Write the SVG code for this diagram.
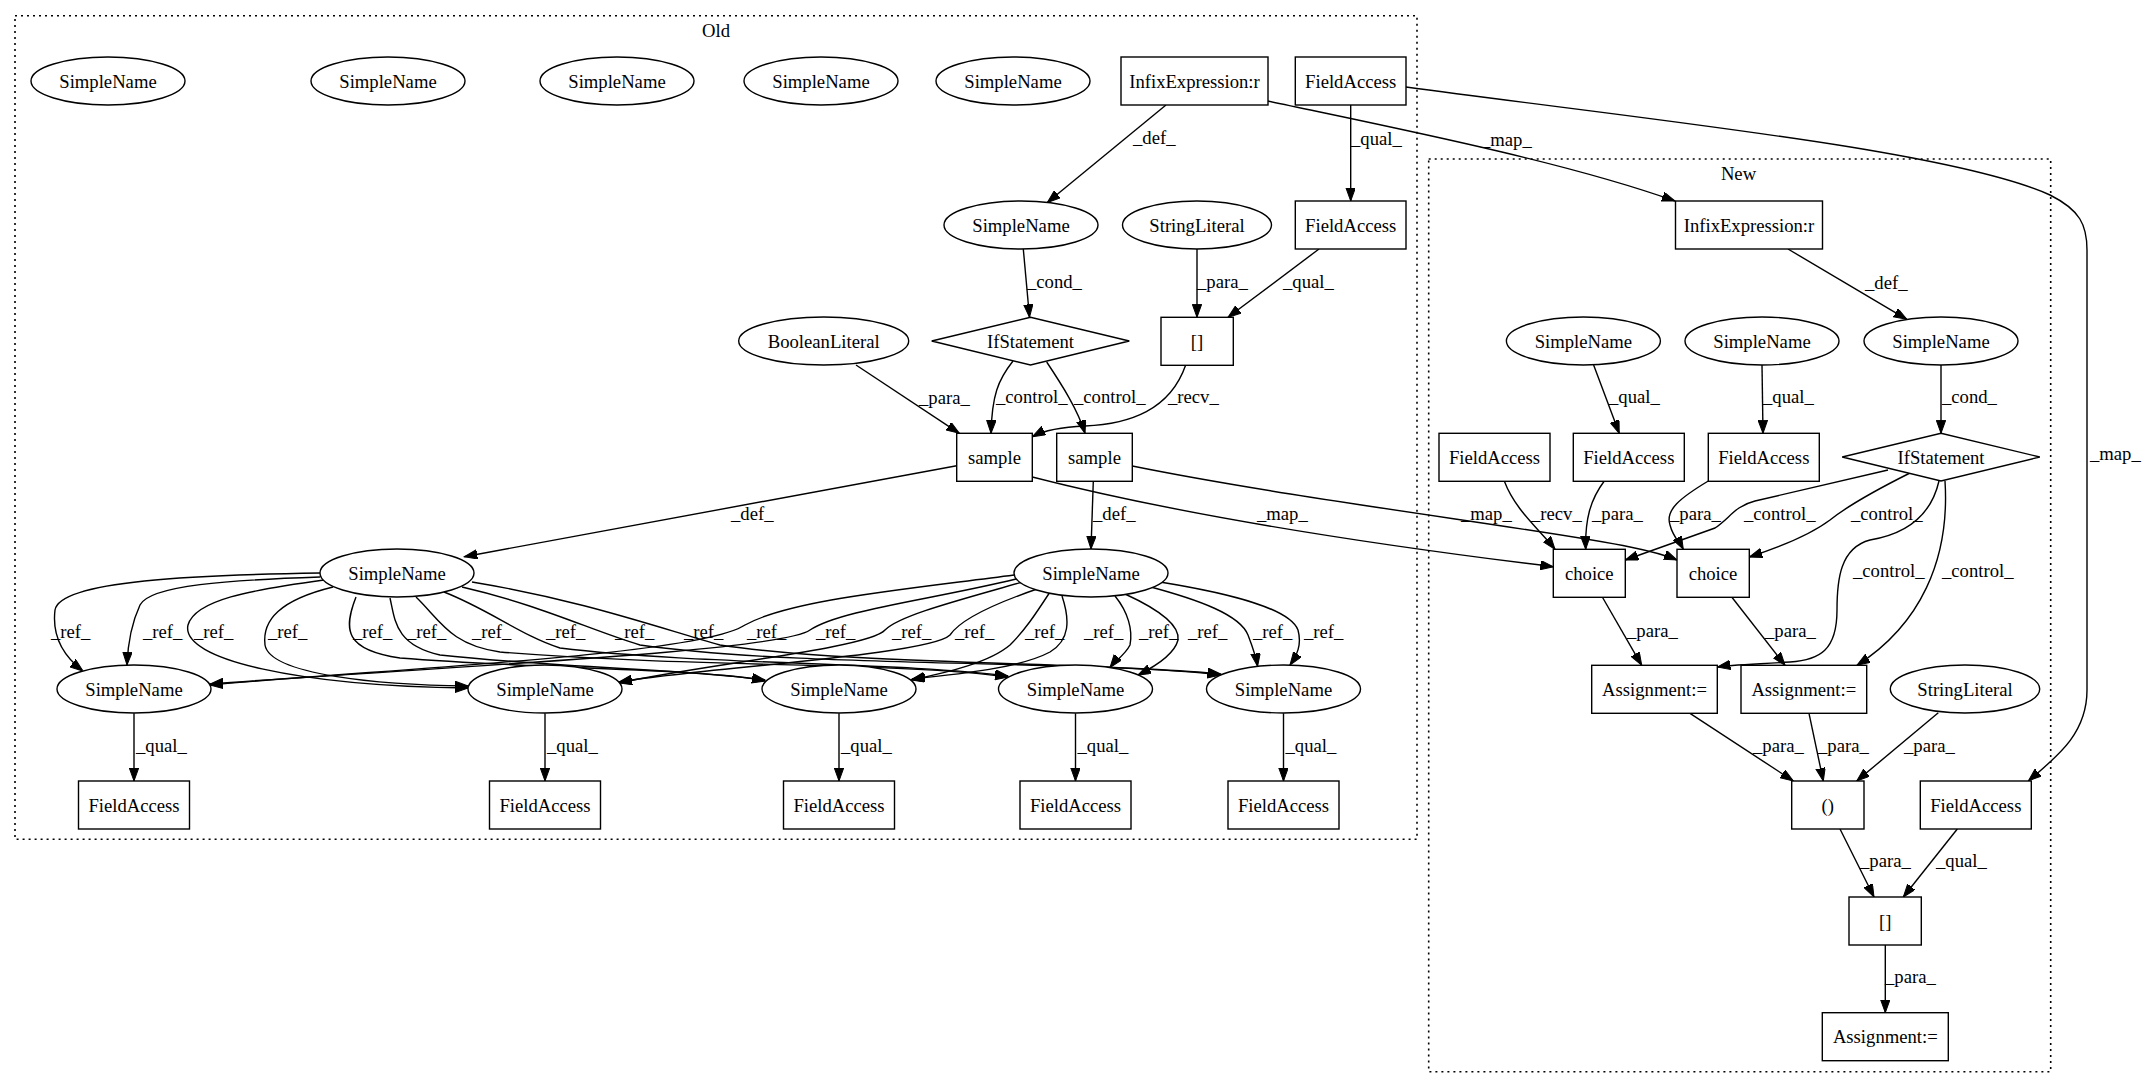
<svg xmlns="http://www.w3.org/2000/svg" width="2144" height="1088" viewBox="0 0 2144 1088" font-family="Liberation Serif, Times New Roman, serif">
<defs>
<marker id="arr" markerUnits="userSpaceOnUse" markerWidth="14" markerHeight="10" refX="13" refY="4.7" orient="auto">
<path d="M0,0 L13,4.7 L0,9.4 z" fill="#000" stroke="#000" stroke-width="1"/>
</marker>
<style>
.cl{fill:none;stroke:#000;stroke-width:1.6;stroke-dasharray:2,4}
.n rect,.n ellipse,.n polygon{fill:#fff;stroke:#000;stroke-width:1.4}
text{font-family:'Liberation Serif','Times New Roman',serif;font-size:18.67px;fill:#000}
.n text{text-anchor:middle}
.e path{fill:none;stroke:#000;stroke-width:1.4;marker-end:url(#arr)}
</style>
</defs>
<rect width="2144" height="1088" fill="#fff"/>
<g id="clusters">
<rect class="cl" x="15" y="15.7" width="1402" height="823.6"/>
<text x="716" y="37" text-anchor="middle">Old</text>
<rect class="cl" x="1428.7" y="159" width="622" height="912.7"/>
<text x="1738.5" y="180" text-anchor="middle">New</text>
</g>
<g id="connectors" class="e">
<path d="M1166,105 L1047.3,202.5"/>
<text x="1133" y="144">_def_</text>
<path d="M1268,101 C1380,125 1560,160 1675,201"/>
<text x="1481" y="146">_map_</text>
<path d="M1350.7,105 L1350.7,201"/>
<text x="1351" y="145">_qual_</text>
<path d="M1406,87 C1650,120 1950,150 2050,195 C2080,210 2087,225 2087,250 L2087,690 C2087,735 2055,758 2028.3,781"/>
<text x="2090" y="460">_map_</text>
<path d="M1023.3,249 L1029.5,317.3"/>
<text x="1027" y="288">_cond_</text>
<path d="M1197,249 L1197,317.3"/>
<text x="1197" y="288">_para_</text>
<path d="M1319,249 L1228,317.3"/>
<text x="1283" y="288">_qual_</text>
<path d="M1013,361 C998,380 992,395 991,433.3"/>
<text x="996" y="403">_control_</text>
<path d="M1046.7,362 C1062,385 1078,410 1085,433.3"/>
<text x="1074" y="403">_control_</text>
<path d="M1185.7,365 C1170,410 1130,424 1085,426 C1060,427 1045,430 1032.3,436.7"/>
<text x="1168" y="403">_recv_</text>
<path d="M856,365 L959.3,433.3"/>
<text x="919" y="404">_para_</text>
<path d="M956.7,465.7 L464.3,556.7"/>
<text x="731" y="520">_def_</text>
<path d="M1093.3,481.3 L1091,549"/>
<text x="1093" y="520">_def_</text>
<path d="M1032.3,477 C1200,520 1400,548 1553.3,566.7"/>
<text x="1257" y="520">_map_</text>
<path d="M1132.3,466 C1300,500 1550,530 1630,547 C1650,551 1665,555 1677,560"/>
<text x="1461" y="520">_map_</text>
<path d="M1788,249 L1906.8,319.3"/>
<text x="1865" y="289">_def_</text>
<path d="M1593.6,365 L1619.2,433.3"/>
<text x="1609" y="403">_qual_</text>
<path d="M1762,365 L1763,433.3"/>
<text x="1763" y="403">_qual_</text>
<path d="M1941,365 L1941,433.3"/>
<text x="1942" y="403">_cond_</text>
<path d="M1504.3,481 C1515,510 1540,530 1555,549.3"/>
<text x="1531" y="520">_recv_</text>
<path d="M1604.3,481 C1590,500 1585,520 1585.7,549.3"/>
<text x="1592" y="520">_para_</text>
<path d="M1708.3,481 C1680,498 1665,510 1670,525 C1673,537 1680,543 1683.3,549.3"/>
<text x="1670" y="520">_para_</text>
<path d="M1888,470 L1755,501 C1735,506 1730,518 1715,528 L1625.3,560"/>
<text x="1744" y="520">_control_</text>
<path d="M1910,473 C1870,493 1845,508 1830,520 C1810,535 1780,547 1749.3,557"/>
<text x="1851" y="520">_control_</text>
<path d="M1939,481 C1930,520 1900,535 1870,540 C1840,548 1837,580 1837,610 C1837,650 1820,660 1790,662 C1760,664 1730,665 1717.3,667"/>
<text x="1853" y="577">_control_</text>
<path d="M1945,481 C1950,560 1920,625 1857,665.3"/>
<text x="1942" y="577">_control_</text>
<path d="M1602.3,597 L1641.7,665.3"/>
<text x="1627" y="637">_para_</text>
<path d="M1731.7,597 L1785,665.3"/>
<text x="1765" y="637">_para_</text>
<path d="M1690,713.3 L1793.3,781"/>
<text x="1753" y="752">_para_</text>
<path d="M1809,713.3 L1823.3,781"/>
<text x="1818" y="752">_para_</text>
<path d="M1938.3,712.7 L1856.7,781"/>
<text x="1904" y="752">_para_</text>
<path d="M1840,829 L1874,897"/>
<text x="1860" y="867">_para_</text>
<path d="M1957.3,829 L1903.3,897"/>
<text x="1936" y="867">_qual_</text>
<path d="M1885.3,945 L1885.3,1012.7"/>
<text x="1885" y="983">_para_</text>
<path d="M134,713.3 L134,781"/>
<text x="136" y="752">_qual_</text>
<path d="M545,713.3 L545,781"/>
<text x="547" y="752">_qual_</text>
<path d="M839,713.3 L839,781"/>
<text x="841" y="752">_qual_</text>
<path d="M1075.5,713.3 L1075.5,781"/>
<text x="1077.5" y="752">_qual_</text>
<path d="M1283.5,713.3 L1283.5,781"/>
<text x="1285.5" y="752">_qual_</text>
<path d="M320,573 C200,575 60,580 55,610 C52,635 62,655 83,671"/>
<text x="51" y="638">_ref_</text>
<path d="M320,577 C230,580 150,585 140,605 C133,620 128,640 127,665"/>
<text x="143" y="638">_ref_</text>
<path d="M324,580 C250,590 195,600 188,625 C180,660 300,686 468,688"/>
<text x="194" y="638">_ref_</text>
<path d="M333,587 C280,600 262,620 265,645 C270,675 380,685 468,686"/>
<text x="268" y="638">_ref_</text>
<path d="M356,597 C343,630 345,650 400,658 C550,670 700,668 765,681"/>
<text x="353" y="638">_ref_</text>
<path d="M390,598 C395,620 395,645 440,655 C560,668 700,670 765,680"/>
<text x="407" y="638">_ref_</text>
<path d="M416,597 C440,620 450,645 500,652 C700,668 900,662 1008,677"/>
<text x="472" y="638">_ref_</text>
<path d="M444,592 C490,610 520,635 560,648 C700,665 900,662 1008,676"/>
<text x="546" y="638">_ref_</text>
<path d="M462,587 C540,605 590,630 640,645 C800,668 1100,660 1220.6,675"/>
<text x="615" y="638">_ref_</text>
<path d="M472,582 C580,600 650,625 720,645 C850,665 1100,662 1220.6,674"/>
<text x="684" y="638">_ref_</text>
<path d="M1014,575 C900,590 790,600 745,625 C700,655 400,668 210,685"/>
<text x="747" y="638">_ref_</text>
<path d="M1016,579 C930,600 840,610 810,630 C780,652 420,668 210,684"/>
<text x="816" y="638">_ref_</text>
<path d="M1026,581 C960,600 900,615 885,630 C870,648 700,665 619,683"/>
<text x="892" y="638">_ref_</text>
<path d="M1040,588 C990,605 960,620 950,635 C930,655 700,668 619,682"/>
<text x="955" y="638">_ref_</text>
<path d="M1050,592 C1035,615 1025,630 1010,645 C990,662 950,672 911,680"/>
<text x="1025" y="638">_ref_</text>
<path d="M1062,596 C1070,620 1070,640 1050,652 C1020,668 960,674 912,679"/>
<text x="1084" y="638">_ref_</text>
<path d="M1115,596 C1128,612 1133,630 1130,645 C1125,655 1115,661 1110,667.5"/>
<text x="1139" y="638">_ref_</text>
<path d="M1125,594 C1160,610 1180,625 1178,640 C1175,652 1160,664 1138,675"/>
<text x="1188" y="638">_ref_</text>
<path d="M1147,586 C1200,600 1240,615 1248,635 C1253,648 1256,656 1257.6,666.4"/>
<text x="1253" y="638">_ref_</text>
<path d="M1160,582 C1240,595 1290,610 1298,630 C1302,645 1297,655 1290,665"/>
<text x="1304" y="638">_ref_</text>
</g>
<g id="o_sn1" class="n"><ellipse cx="108" cy="81" rx="77" ry="24"/><text x="108" y="87.5">SimpleName</text></g>
<g id="o_sn2" class="n"><ellipse cx="388" cy="81" rx="77" ry="24"/><text x="388" y="87.5">SimpleName</text></g>
<g id="o_sn3" class="n"><ellipse cx="617" cy="81" rx="77" ry="24"/><text x="617" y="87.5">SimpleName</text></g>
<g id="o_sn4" class="n"><ellipse cx="821" cy="81" rx="77" ry="24"/><text x="821" y="87.5">SimpleName</text></g>
<g id="o_sn5" class="n"><ellipse cx="1013" cy="81" rx="77" ry="24"/><text x="1013" y="87.5">SimpleName</text></g>
<g id="o_infix" class="n"><rect x="1121" y="57" width="147" height="48"/><text x="1194.5" y="87.5">InfixExpression:r</text></g>
<g id="o_fa_top" class="n"><rect x="1295.3" y="57" width="110.7" height="48"/><text x="1350.7" y="87.5">FieldAccess</text></g>
<g id="o_sn_def" class="n"><ellipse cx="1021" cy="225" rx="77" ry="24"/><text x="1021" y="231.5">SimpleName</text></g>
<g id="o_str" class="n"><ellipse cx="1197" cy="225" rx="74.5" ry="24"/><text x="1197" y="231.5">StringLiteral</text></g>
<g id="o_fa2" class="n"><rect x="1295.3" y="201" width="110.7" height="48"/><text x="1350.7" y="231.5">FieldAccess</text></g>
<g id="o_if" class="n"><polygon points="931.7,341 1030.5,317.3 1129.3,341 1030.5,365"/><text x="1030.5" y="347.5">IfStatement</text></g>
<g id="o_idx" class="n"><rect x="1161" y="317.3" width="72.3" height="48"/><text x="1197" y="347.5">[]</text></g>
<g id="o_bool" class="n"><ellipse cx="823.7" cy="341" rx="85" ry="24"/><text x="823.7" y="347.5">BooleanLiteral</text></g>
<g id="o_sample1" class="n"><rect x="956.7" y="433.3" width="75.6" height="48"/><text x="994.5" y="463.5">sample</text></g>
<g id="o_sample2" class="n"><rect x="1056.7" y="433.3" width="75.6" height="48"/><text x="1094.5" y="463.5">sample</text></g>
<g id="o_snL" class="n"><ellipse cx="397" cy="573" rx="77" ry="24"/><text x="397" y="579.5">SimpleName</text></g>
<g id="o_snR" class="n"><ellipse cx="1091" cy="573" rx="77" ry="24"/><text x="1091" y="579.5">SimpleName</text></g>
<g id="o_e1" class="n"><ellipse cx="134" cy="689" rx="77" ry="24"/><text x="134" y="695.5">SimpleName</text></g>
<g id="o_e2" class="n"><ellipse cx="545" cy="689" rx="77" ry="24"/><text x="545" y="695.5">SimpleName</text></g>
<g id="o_e3" class="n"><ellipse cx="839" cy="689" rx="77" ry="24"/><text x="839" y="695.5">SimpleName</text></g>
<g id="o_e4" class="n"><ellipse cx="1075.5" cy="689" rx="77" ry="24"/><text x="1075.5" y="695.5">SimpleName</text></g>
<g id="o_e5" class="n"><ellipse cx="1283.5" cy="689" rx="77" ry="24"/><text x="1283.5" y="695.5">SimpleName</text></g>
<g id="o_f1" class="n"><rect x="78.5" y="781" width="111" height="48"/><text x="134" y="811.5">FieldAccess</text></g>
<g id="o_f2" class="n"><rect x="489.5" y="781" width="111" height="48"/><text x="545" y="811.5">FieldAccess</text></g>
<g id="o_f3" class="n"><rect x="783.5" y="781" width="111" height="48"/><text x="839" y="811.5">FieldAccess</text></g>
<g id="o_f4" class="n"><rect x="1020" y="781" width="111" height="48"/><text x="1075.5" y="811.5">FieldAccess</text></g>
<g id="o_f5" class="n"><rect x="1228" y="781" width="111" height="48"/><text x="1283.5" y="811.5">FieldAccess</text></g>
<g id="n_infix" class="n"><rect x="1675.5" y="201" width="147" height="48"/><text x="1749" y="231.5">InfixExpression:r</text></g>
<g id="n_snA" class="n"><ellipse cx="1583.4" cy="341" rx="77" ry="24"/><text x="1583.4" y="347.5">SimpleName</text></g>
<g id="n_snB" class="n"><ellipse cx="1762" cy="341" rx="77" ry="24"/><text x="1762" y="347.5">SimpleName</text></g>
<g id="n_snC" class="n"><ellipse cx="1941" cy="341" rx="77" ry="24"/><text x="1941" y="347.5">SimpleName</text></g>
<g id="n_faA" class="n"><rect x="1439" y="433.3" width="111" height="48"/><text x="1494.5" y="463.5">FieldAccess</text></g>
<g id="n_faB" class="n"><rect x="1573.3" y="433.3" width="111" height="48"/><text x="1628.8" y="463.5">FieldAccess</text></g>
<g id="n_faC" class="n"><rect x="1708.3" y="433.3" width="111" height="48"/><text x="1763.8" y="463.5">FieldAccess</text></g>
<g id="n_if" class="n"><polygon points="1842.2,457 1941,433.3 2039.8,457 1941,481"/><text x="1941" y="463.5">IfStatement</text></g>
<g id="n_choice1" class="n"><rect x="1553.3" y="549.3" width="72" height="48"/><text x="1589.3" y="579.5">choice</text></g>
<g id="n_choice2" class="n"><rect x="1677" y="549.3" width="72.3" height="48"/><text x="1713" y="579.5">choice</text></g>
<g id="n_assign1" class="n"><rect x="1591.7" y="665.3" width="125.6" height="48"/><text x="1654.5" y="695.5">Assignment:=</text></g>
<g id="n_assign2" class="n"><rect x="1741" y="665.3" width="125.7" height="48"/><text x="1803.8" y="695.5">Assignment:=</text></g>
<g id="n_str" class="n"><ellipse cx="1965" cy="689" rx="74.7" ry="24"/><text x="1965" y="695.5">StringLiteral</text></g>
<g id="n_call" class="n"><rect x="1791.7" y="781" width="72.3" height="48"/><text x="1827.8" y="811.5">()</text></g>
<g id="n_fa" class="n"><rect x="1920.3" y="781" width="111" height="48"/><text x="1975.8" y="811.5">FieldAccess</text></g>
<g id="n_idx" class="n"><rect x="1849" y="897" width="72.3" height="48"/><text x="1885.2" y="927.5">[]</text></g>
<g id="n_assign3" class="n"><rect x="1822.3" y="1012.7" width="126" height="48"/><text x="1885.3" y="1043">Assignment:=</text></g>
</svg>
